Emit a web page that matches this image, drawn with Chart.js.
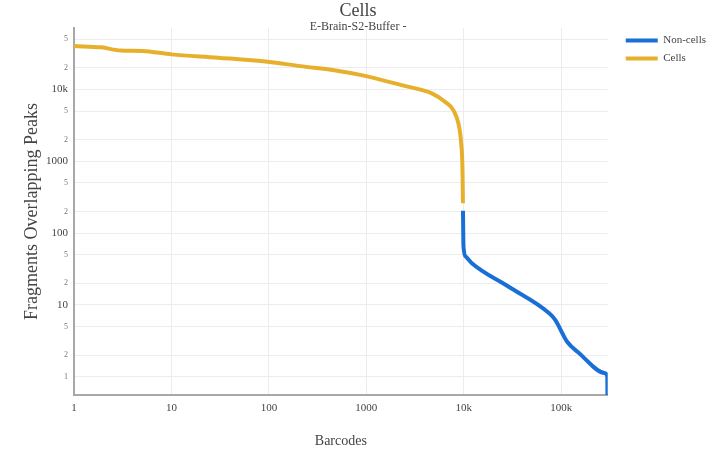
<!DOCTYPE html>
<html>
<head>
<meta charset="utf-8">
<script src="https://cdn.jsdelivr.net/npm/chart.js@4.4.1/dist/chart.umd.min.js"></script>
<style>
  html, body { margin: 0; padding: 0; background: #fff; }
  #wrap { width: 716px; height: 453px; }
</style>
</head>
<body>
<div id="wrap"><canvas id="chart"></canvas></div>
<script>
// values (rank vs fragments)
const cellsX = [1, 1.9, 3, 5, 10, 30, 97, 210, 500, 890, 2300, 4700, 6400, 7800, 8800, 9400, 9700, 9800];
const cellsY = [40300, 38700, 35000, 34500, 30900, 27800, 24400, 21200, 18300, 15900, 11500, 8850, 6770, 5170, 3370, 1780, 760, 260];

const nonCellsX = [9810, 9930, 10500, 12100, 28900, 74800, 86700, 115000, 152000, 282000, 297000, 298000];
const nonCellsY = [205, 65, 47, 38, 17.9, 7.7, 6.2, 3.07, 2.14, 1.12, 1.0, 0.5];

const xTicks = [1, 10, 100, 1000, 10000, 100000];
const xTickLabels = ['1', '10', '100', '1000', '10k', '100k'];
const yTicks = [1, 2, 5, 10, 20, 50, 100, 200, 500, 1000, 2000, 5000, 10000, 20000, 50000];
const yTickLabels = ['1', '2', '5', '10', '2', '5', '100', '2', '5', '1000', '2', '5', '10k', '2', '5'];
const yMajor = [10, 100, 1000, 10000];

const titleText = 'Cells';
const subtitleText = 'E-Brain-S2-Buffer -';

const serif = '"Liberation Serif", "Times New Roman", serif';

const toPoints = (xs, ys) => xs.map((x, i) => ({ x: x, y: ys[i] }));

// title + subtitle centred over the whole canvas
const titlePlugin = {
  id: 'titles',
  afterDraw(chart) {
    const c = chart.ctx;
    c.save();
    c.textAlign = 'center';
    c.textBaseline = 'middle';
    c.fillStyle = '#444';
    c.font = '18px ' + serif;
    c.fillText(titleText, chart.width / 2, 11);
    c.font = '12px ' + serif;
    c.fillText(subtitleText, chart.width / 2, 27);
    c.restore();
  }
};

// push the legend a bit away from the plot
const legendShift = {
  id: 'legendShift',
  afterLayout(chart) {
    if (chart.legend) {
      chart.legend.left += 11;
      chart.legend.right += 11;
    }
  }
};

new Chart(document.getElementById('chart'), {
  type: 'line',
  data: {
    datasets: [
      {
        label: 'Non-cells',
        data: toPoints(nonCellsX, nonCellsY),
        borderColor: '#1a6fd6',
        backgroundColor: '#1a6fd6',
        borderWidth: 4,
        pointRadius: 0,
        cubicInterpolationMode: 'monotone',
        fill: false,
      },
      {
        label: 'Cells',
        data: toPoints(cellsX, cellsY),
        borderColor: '#e6b02c',
        backgroundColor: '#e6b02c',
        borderWidth: 4,
        pointRadius: 0,
        cubicInterpolationMode: 'monotone',
        fill: false,
      },
    ],
  },
  options: {
    responsive: true,
    maintainAspectRatio: false,
    animation: false,
    layout: { padding: { top: 28, left: 18, right: 11, bottom: 0 } },
    plugins: {
      legend: {
        position: 'right',
        align: 'start',
        labels: {
          usePointStyle: true,
          pointStyle: 'line',
          pointStyleWidth: 32,
          padding: 7,
          color: '#444',
          font: { family: serif, size: 11 },
        },
      },
      tooltip: { enabled: false },
    },
    scales: {
      x: {
        type: 'logarithmic',
        min: 1,
        max: 300000,
        afterBuildTicks: (scale) => { scale.ticks = xTicks.map(v => ({ value: v })); },
        afterFit: (scale) => { scale.height = 58; },
        ticks: {
          autoSkip: false,
          maxRotation: 0,
          padding: 7,
          color: '#444',
          font: { family: serif, size: 11 },
          callback: (value, index) => xTickLabels[index],
        },
        grid: { color: '#ececec', drawTicks: false },
        border: { display: true, color: '#a8a8a8', width: 2 },
        title: {
          display: true,
          text: 'Barcodes',
          color: '#444',
          font: { family: serif, size: 14 },
          padding: { top: 0, bottom: 3 },
        },
      },
      y: {
        type: 'logarithmic',
        min: 0.556,
        max: 72000,
        afterBuildTicks: (scale) => { scale.ticks = yTicks.map(v => ({ value: v })); },
        afterFit: (scale) => { scale.width = 56; },
        ticks: {
          autoSkip: false,
          padding: 6,
          color: (ctx) => yMajor.includes(ctx.tick.value) ? '#444' : '#777',
          font: (ctx) => ({ family: serif, size: yMajor.includes(ctx.tick.value) ? 11 : 8 }),
          callback: (value, index) => yTickLabels[index],
        },
        grid: { color: '#ececec', drawTicks: false },
        border: { display: true, color: '#a8a8a8', width: 2 },
        title: {
          display: true,
          text: 'Fragments Overlapping Peaks',
          color: '#444',
          font: { family: serif, size: 18 },
          padding: { top: 3, bottom: 0 },
        },
      },
    },
  },
  plugins: [titlePlugin, legendShift],
});
</script>
</body>
</html>
